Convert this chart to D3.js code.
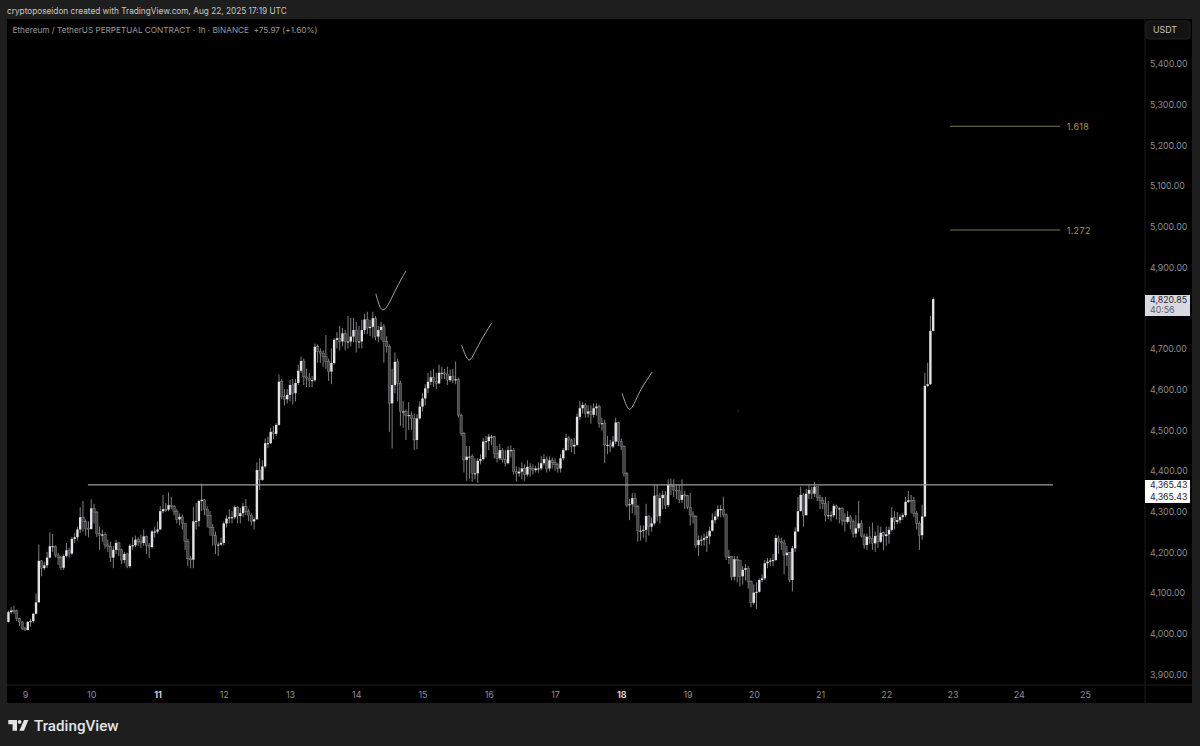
<!DOCTYPE html>
<html>
<head>
<meta charset="utf-8">
<script src="https://cdn.jsdelivr.net/npm/d3@7"></script>
<style>
  html, body { margin: 0; padding: 0; background: #1e1e1e; }
  svg { display: block; }
  text { font-family: Inter, "Noto Sans", sans-serif; }
</style>
</head>
<body>
<div id="chart"></div>
<script>
// Hourly ETHUSDT candles, first one is Aug 8 18:00. Open of a candle = close of the one before.
const closes = [
  4052,4056,4055,4036,4028,4012,
  4008,4028,4030,4048,4076,4178,4160,4167,4186,4214,4214,4192,4186,4161,4190,4204,4196,4232,4236,4255,4285,4275,4258,4256,
  4307,4298,4245,4240,4243,4217,4213,4186,4205,4222,4205,4180,4195,4165,4215,4216,4230,4225,4222,4238,4215,4212,4250,4250,
  4255,4300,4305,4304,4315,4312,4300,4280,4286,4270,4225,4183,4181,4275,4276,4325,4328,4305,4290,4260,4240,4218,4218,4222,
  4270,4282,4285,4285,4310,4288,4295,4312,4300,4290,4275,4280,4401,4377,4410,4467,4467,4495,4490,4512,4618,4582,4575,4586,
  4610,4590,4615,4645,4669,4630,4627,4622,4622,4704,4692,4688,4680,4668,4643,4664,4721,4725,4717,4737,4717,4717,4729,4745,
  4717,4717,4745,4771,4750,4753,4774,4729,4745,4753,4717,4705,4565,4610,4667,4614,4545,4545,4536,4536,4528,4475,4528,4557,
  4577,4602,4618,4629,4618,4614,4640,4640,4637,4622,4632,4622,4624,4536,4491,4426,4434,4434,4393,4393,4424,4428,4471,4472,
  4483,4483,4442,4430,4450,4427,4418,4450,4450,4397,4393,4397,4405,4390,4409,4405,4401,4405,4405,4418,4428,4405,4425,4420,
  4414,4405,4430,4450,4480,4475,4459,4463,4532,4553,4561,4540,4545,4537,4553,4557,4516,4516,4463,4463,4459,4471,4518,4471,
  4459,4393,4315,4317,4332,4311,4252,4252,4254,4288,4262,4270,4338,4288,4332,4340,4315,4365,4360,4352,4350,4328,4340,4338,
  4310,4291,4287,4217,4229,4230,4234,4238,4252,4278,4287,4305,4305,4291,4188,4188,4139,4182,4180,4140,4156,4160,4127,4075,
  4100,4102,4131,4135,4172,4176,4179,4180,4234,4225,4222,4192,4198,4131,4209,4250,4300,4340,4290,4343,4352,4343,4360,4334,
  4327,4319,4290,4290,4290,4313,4307,4307,4278,4274,4286,4274,4245,4258,4270,4239,4217,4237,4233,4221,4239,4225,4247,4239,
  4243,4254,4284,4274,4278,4286,4290,4323,4327,4326,4295,4270,4241,4287,4608,4612,4743,4821
];
const highs = [
  4056,4064,4068,4058,4038,4030,
  4016,4030,4036,4050,4098,4218,4180,4176,4200,4248,4244,4216,4198,4190,4194,4222,4210,4236,4246,4262,4310,4325,4280,4275,
  4329,4318,4300,4262,4255,4248,4230,4225,4215,4230,4224,4208,4200,4198,4220,4236,4240,4236,4242,4255,4240,4222,4254,4262,
  4275,4312,4340,4320,4346,4335,4315,4305,4295,4292,4268,4232,4190,4310,4320,4328,4368,4330,4312,4300,4268,4250,4225,4235,
  4275,4290,4305,4300,4314,4312,4308,4320,4330,4305,4295,4285,4420,4430,4425,4479,4483,4505,4510,4516,4636,4625,4600,4600,
  4622,4625,4625,4660,4680,4675,4650,4640,4632,4712,4710,4700,4695,4733,4675,4700,4725,4740,4755,4750,4745,4780,4775,4775,
  4765,4755,4770,4785,4790,4770,4790,4780,4755,4765,4760,4730,4710,4650,4690,4675,4620,4570,4550,4568,4545,4540,4538,4570,
  4590,4612,4640,4645,4650,4640,4660,4655,4650,4655,4648,4650,4668,4628,4540,4495,4460,4460,4440,4430,4430,4440,4480,4485,
  4490,4488,4485,4460,4465,4455,4450,4460,4462,4455,4410,4408,4420,4415,4425,4418,4415,4412,4420,4435,4440,4435,4435,4432,
  4430,4418,4440,4455,4490,4485,4478,4480,4540,4570,4568,4565,4560,4560,4565,4565,4562,4530,4525,4485,4475,4485,4530,4520,
  4478,4462,4396,4330,4345,4345,4315,4265,4265,4318,4290,4285,4365,4365,4345,4350,4350,4378,4380,4378,4365,4365,4378,4350,
  4340,4345,4300,4290,4240,4240,4245,4250,4262,4295,4300,4315,4315,4336,4295,4205,4190,4190,4190,4165,4165,4170,4165,4130,
  4120,4125,4135,4145,4180,4185,4185,4195,4242,4240,4235,4230,4215,4200,4215,4260,4335,4360,4345,4355,4365,4360,4372,4360,
  4340,4335,4335,4325,4300,4318,4316,4310,4310,4295,4300,4290,4280,4290,4325,4278,4245,4245,4262,4272,4250,4265,4262,4250,
  4262,4262,4310,4300,4298,4292,4295,4335,4350,4340,4335,4300,4275,4316,4640,4665,4780,4825
];
const lows = [
  4026,4048,4048,4030,4018,4008,
  4006,4010,4016,4026,4046,4076,4140,4155,4160,4184,4200,4186,4168,4155,4156,4186,4186,4192,4222,4228,4246,4250,4240,4236,
  4255,4270,4236,4205,4225,4208,4200,4175,4160,4195,4190,4170,4172,4160,4160,4205,4212,4215,4210,4215,4195,4185,4208,4235,
  4245,4255,4295,4298,4300,4305,4290,4270,4265,4255,4205,4165,4160,4160,4255,4262,4300,4290,4260,4240,4215,4195,4190,4215,
  4216,4260,4270,4270,4280,4270,4270,4285,4290,4275,4265,4255,4280,4352,4375,4405,4455,4465,4478,4485,4510,4575,4560,4565,
  4570,4562,4570,4610,4640,4610,4605,4605,4605,4618,4665,4665,4655,4650,4620,4612,4660,4700,4695,4705,4695,4700,4705,4715,
  4690,4700,4700,4735,4735,4730,4725,4720,4715,4720,4665,4690,4495,4454,4590,4570,4510,4505,4475,4500,4500,4450,4452,4525,
  4545,4560,4590,4610,4605,4600,4612,4625,4625,4610,4618,4615,4612,4530,4485,4395,4375,4380,4372,4378,4370,4415,4425,4432,
  4450,4462,4430,4420,4425,4420,4410,4415,4432,4390,4373,4385,4378,4375,4385,4385,4390,4395,4395,4400,4412,4395,4398,4405,
  4400,4395,4395,4425,4448,4450,4445,4440,4460,4525,4540,4530,4530,4515,4530,4535,4505,4498,4418,4440,4445,4455,4465,4460,
  4450,4385,4310,4278,4295,4290,4225,4228,4235,4225,4240,4250,4265,4275,4270,4305,4305,4310,4340,4335,4330,4320,4320,4305,
  4305,4265,4270,4210,4190,4215,4215,4200,4218,4250,4270,4280,4285,4285,4180,4170,4130,4130,4125,4115,4120,4130,4110,4064,
  4070,4060,4100,4125,4130,4160,4165,4165,4178,4195,4205,4145,4165,4125,4103,4200,4255,4300,4262,4290,4330,4330,4335,4325,
  4305,4305,4275,4280,4275,4285,4280,4270,4265,4250,4270,4255,4235,4235,4250,4235,4208,4205,4220,4205,4200,4210,4222,4205,
  4215,4220,4250,4255,4268,4270,4278,4285,4320,4295,4285,4255,4205,4230,4285,4605,4610,4742
];
const firstOpen = 4028;

const dayLabels = [9, 10, 11, 12, 13, 14, 15, 16, 17, 18, 19, 20, 21, 22, 23, 24, 25];
const boldDays = [11, 18];
const priceTicks = [3900, 4000, 4100, 4200, 4300, 4400, 4500, 4600, 4700, 4900, 5000, 5100, 5200, 5300, 5400];

const levelPrice = 4365.43;
const lastPrice = 4820.85;
const countdown = "40:56";
const fibNames = ["1.618", "1.272"];
const fibPrices = [5246, 4991];

// freehand ticks on the chart, as [candle index, price]
const sketch1 = [[133.1,4834],[134.2,4807],[135.3,4792],[136.8,4797],[139,4826],[141.1,4856],[144,4890]];
const sketch2 = [[164.2,4708],[165.4,4684],[166.9,4666],[168.2,4680],[170.8,4716],[175.1,4763]];
const sketch3 = [[222.3,4590],[223.6,4563],[224.9,4545],[226.6,4561],[228.8,4598],[233.2,4642]];

const W = 1200, H = 746;
const pane = { left: 7, right: 1192, top: 19, bottom: 703, axisX: 1145, axisY: 685 };

// Aug 9 00:00 is candle 6, one day = 24 candles
const x = d3.scaleLinear().domain([6, 6 + 24 * 16]).range([25, 25 + 66.25 * 16]);
const y = d3.scaleLinear().domain([3900, 5400]).range([674, 63.5]);
const dayIndex = d => 6 + (d - 9) * 24;

const svg = d3.select("#chart").append("svg").attr("width", W).attr("height", H);

svg.append("rect").attr("width", W).attr("height", H).attr("fill", "#1e1e1e");
svg.append("rect")
  .attr("x", pane.left).attr("y", pane.top)
  .attr("width", pane.right - pane.left).attr("height", pane.bottom - pane.top)
  .attr("fill", "#000");

// pane separators
svg.append("line").attr("x1", pane.axisX).attr("x2", pane.axisX)
  .attr("y1", pane.top).attr("y2", pane.bottom).attr("stroke", "#1c1c1c");
svg.append("line").attr("x1", pane.left).attr("x2", pane.right)
  .attr("y1", pane.axisY).attr("y2", pane.axisY).attr("stroke", "#1c1c1c");

svg.append("text").attr("x", 7).attr("y", 13.5)
  .attr("font-size", 8.25).attr("fill", "#c8c8c8")
  .text("cryptoposeidon created with TradingView.com, Aug 22, 2025 17:19 UTC");
svg.append("text").attr("x", 12.5).attr("y", 32.5)
  .attr("font-size", 8.2).attr("fill", "#9a9a9a")
  .text("Ethereum / TetherUS PERPETUAL CONTRACT · 1h · BINANCE\u00A0\u00A0+75.97 (+1.60%)");

// candles
const candles = closes.map((c, i) => ({
  i, close: c, high: highs[i], low: lows[i], open: i === 0 ? firstOpen : closes[i - 1]
}));
const cg = svg.append("g");
cg.selectAll("line").data(candles).join("line")
  .attr("x1", d => x(d.i)).attr("x2", d => x(d.i))
  .attr("y1", d => y(d.high)).attr("y2", d => y(d.low))
  .attr("stroke", "#808080").attr("stroke-width", 1);
cg.selectAll("rect").data(candles).join("rect")
  .attr("x", d => x(d.i) - 1.2).attr("width", 2.4)
  .attr("y", d => y(Math.max(d.open, d.close)))
  .attr("height", d => Math.max(1, Math.abs(y(d.open) - y(d.close))))
  .attr("fill", d => d.close >= d.open ? "#e2e2e8" : "#444")
  .attr("stroke", d => d.close >= d.open ? "none" : "#9a9a9a")
  .attr("stroke-width", 0.4);

// horizontal level
svg.append("line")
  .attr("x1", x(28.8)).attr("x2", x(378.4))
  .attr("y1", y(levelPrice) + 0.4).attr("y2", y(levelPrice) + 0.4)
  .attr("stroke", "#9c9c9c").attr("stroke-width", 1.2);

// fib extension levels
const fibG = svg.append("g").selectAll("g").data(fibNames).join("g");
fibG.append("line")
  .attr("x1", x(341.1)).attr("x2", x(381))
  .attr("y1", (d, i) => y(fibPrices[i])).attr("y2", (d, i) => y(fibPrices[i]))
  .attr("stroke", "#7d7446").attr("stroke-width", 1.1);
fibG.append("text")
  .attr("x", x(381) + 6.5).attr("y", (d, i) => y(fibPrices[i]) + 3.6)
  .attr("font-size", 9).attr("letter-spacing", 0.35).attr("fill", "#a39650")
  .text(d => d);

// freehand ticks
const sketchLine = d3.line().x(d => x(d[0])).y(d => y(d[1])).curve(d3.curveBasis);
svg.append("g").selectAll("path").data([sketch1, sketch2, sketch3]).join("path")
  .attr("d", sketchLine)
  .attr("fill", "none").attr("stroke", "#b4b4b4").attr("stroke-width", 0.9);
svg.append("circle").attr("cx", x(264.3)).attr("cy", y(4546)).attr("r", 0.6).attr("fill", "#555");

// price axis
const yAxis = d3.axisRight(y).tickValues(priceTicks).tickSize(0).tickPadding(5)
  .tickFormat(d3.format(",.2f"));
const yG = svg.append("g").attr("transform", `translate(${pane.axisX},0.5)`).call(yAxis);
yG.select(".domain").remove();
yG.selectAll("text").attr("font-size", 8.8).attr("fill", "#8c8c8c")
  .style("font-family", "Inter, sans-serif");

// time axis
const xAxis = d3.axisBottom(x).tickValues(dayLabels.map(dayIndex)).tickSize(0).tickPadding(0)
  .tickFormat(v => 9 + (v - 6) / 24);
const xG = svg.append("g").attr("transform", "translate(0,691.5)").call(xAxis);
xG.select(".domain").remove();
xG.selectAll("text").attr("font-size", 9)
  .style("font-family", "Inter, sans-serif")
  .attr("fill", v => boldDays.includes(9 + (v - 6) / 24) ? "#cfcfcf" : "#8c8c8c")
  .attr("font-weight", v => boldDays.includes(9 + (v - 6) / 24) ? 700 : 400);

// currency button
svg.append("rect").attr("x", 1146).attr("y", 21).attr("width", 44).attr("height", 18).attr("rx", 3)
  .attr("fill", "#131313").attr("stroke", "#222");
svg.append("text").attr("x", 1153).attr("y", 33.3).attr("font-size", 8.8).attr("fill", "#c4c4c4").text("USDT");

// last price tag
svg.append("rect").attr("x", pane.axisX).attr("y", 295).attr("width", 45).attr("height", 21)
  .attr("fill", "#d9d9e3");
svg.append("text").attr("x", 1150).attr("y", 303).attr("font-size", 8.8).attr("fill", "#26262c")
  .text(d3.format(",.2f")(lastPrice));
svg.append("text").attr("x", 1150).attr("y", 312.5).attr("font-size", 8.8).attr("fill", "#5c5c66")
  .text(countdown);

// level tags, same price twice
svg.append("rect").attr("x", pane.axisX).attr("y", 480).attr("width", 45).attr("height", 23).attr("fill", "#fff");
[488, 500].forEach(ty => {
  svg.append("text").attr("x", 1150).attr("y", ty).attr("font-size", 8.8).attr("fill", "#26262c")
    .text(d3.format(",.2f")(levelPrice));
});

// TradingView logo
const logo = svg.append("g").attr("fill", "#e4e4e4");
logo.append("path").attr("d", "M8.3 720H17V730.7H12.6V724.3H8.3Z");
logo.append("circle").attr("cx", 19.6).attr("cy", 721.9).attr("r", 1.9);
logo.append("path").attr("d", "M24 720H28.4L24 730.7H19.4Z");
svg.append("text").attr("x", 34).attr("y", 730.5)
  .style("font-family", "Roboto, sans-serif")
  .attr("font-size", 15.2).attr("font-weight", 500).attr("fill", "#e4e4e4")
  .text("TradingView");
</script>
</body>
</html>
